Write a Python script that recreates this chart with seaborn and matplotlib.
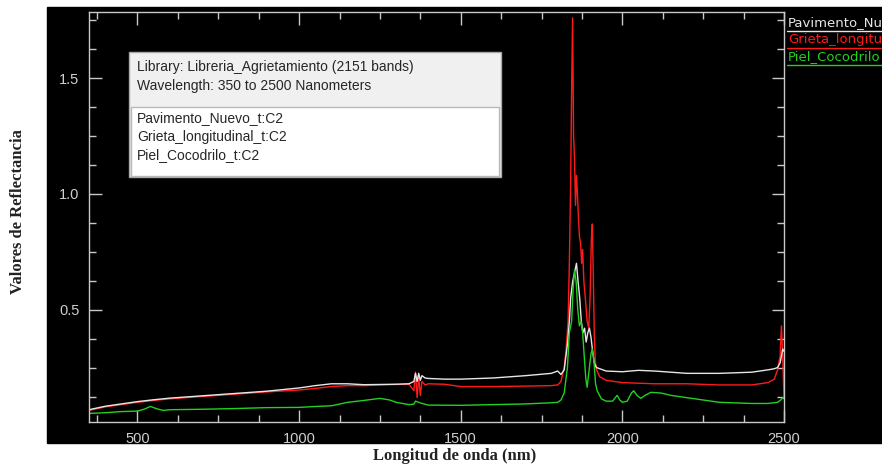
import pandas as pd
import matplotlib.pyplot as plt
import seaborn as sns
from matplotlib.patches import Rectangle
from matplotlib.lines import Line2D
from matplotlib.ticker import MultipleLocator

# Spectra (wavelength nm, reflectance)
pav_wl = [350, 400, 450, 500, 550, 600, 700, 800, 900, 1000, 1050, 1100, 1150, 1200,
          1250, 1300, 1340, 1355, 1360, 1365, 1370, 1375, 1380, 1390, 1400, 1450, 1500,
          1600, 1700, 1780, 1800, 1810, 1820, 1830, 1836, 1840, 1846, 1852, 1858, 1863,
          1868, 1873, 1878, 1883, 1888, 1893, 1898, 1903, 1908, 1913, 1920, 1930, 1950,
          2000, 2050, 2100, 2200, 2300, 2400, 2450, 2470, 2480, 2488, 2492, 2496, 2500]
pav_val = [0.068, 0.083, 0.093, 0.103, 0.111, 0.118, 0.128, 0.138, 0.148, 0.162, 0.172,
           0.180, 0.180, 0.176, 0.177, 0.178, 0.180, 0.190, 0.225, 0.190, 0.225, 0.195,
           0.215, 0.205, 0.203, 0.200, 0.200, 0.205, 0.215, 0.225, 0.235, 0.220, 0.240,
           0.350, 0.450, 0.550, 0.620, 0.660, 0.700, 0.620, 0.550, 0.450, 0.400, 0.420,
           0.360, 0.400, 0.420, 0.380, 0.320, 0.270, 0.250, 0.245, 0.235, 0.232, 0.238,
           0.235, 0.225, 0.225, 0.230, 0.240, 0.245, 0.250, 0.270, 0.300, 0.330, 0.320]

gri_wl = [350, 400, 450, 500, 550, 600, 700, 800, 900, 1000, 1050, 1100, 1150, 1200,
          1250, 1300, 1340, 1355, 1360, 1365, 1370, 1375, 1380, 1390, 1400, 1450, 1500,
          1600, 1700, 1780, 1800, 1810, 1820, 1826, 1832, 1836, 1840, 1843, 1846, 1849,
          1852, 1855, 1858, 1861, 1864, 1867, 1871, 1874, 1877, 1881, 1886, 1891, 1896,
          1900, 1904, 1907, 1910, 1913, 1916, 1920, 1930, 1950, 2000, 2100, 2200, 2300,
          2400, 2450, 2470, 2480, 2488, 2492, 2496, 2500]
gri_val = [0.065, 0.080, 0.090, 0.100, 0.108, 0.115, 0.125, 0.135, 0.145, 0.153, 0.160,
           0.168, 0.172, 0.172, 0.175, 0.177, 0.178, 0.150, 0.230, 0.120, 0.210, 0.130,
           0.190, 0.175, 0.180, 0.178, 0.168, 0.168, 0.170, 0.172, 0.175, 0.190, 0.250,
           0.330, 0.450, 0.700, 1.050, 1.450, 1.760, 1.250, 1.150, 0.950, 1.080, 1.000,
           0.900, 0.820, 0.780, 0.700, 0.760, 0.620, 0.540, 0.450, 0.420, 0.550, 0.800,
           0.870, 0.650, 0.400, 0.280, 0.240, 0.210, 0.195, 0.185, 0.180, 0.180, 0.175,
           0.175, 0.185, 0.200, 0.240, 0.300, 0.430, 0.300, 0.120]

piel_wl = [350, 400, 450, 500, 520, 540, 560, 580, 600, 700, 800, 900, 1000, 1050, 1100,
           1150, 1200, 1250, 1280, 1300, 1340, 1355, 1360, 1370, 1380, 1400, 1500, 1600,
           1700, 1780, 1800, 1810, 1820, 1830, 1836, 1843, 1848, 1852, 1857, 1862, 1867,
           1872, 1877, 1882, 1887, 1891, 1898, 1903, 1907, 1912, 1917, 1922, 1935, 1950,
           1970, 1978, 1984, 1992, 2000, 2015, 2028, 2035, 2045, 2057, 2070, 2088, 2120,
           2150, 2200, 2250, 2300, 2400, 2450, 2480, 2490, 2496, 2500]
piel_val = [0.052, 0.055, 0.060, 0.062, 0.070, 0.082, 0.072, 0.065, 0.068, 0.070, 0.073,
            0.077, 0.078, 0.082, 0.085, 0.100, 0.108, 0.117, 0.110, 0.100, 0.090, 0.092,
            0.105, 0.100, 0.095, 0.088, 0.087, 0.090, 0.093, 0.098, 0.100, 0.110, 0.140,
            0.250, 0.400, 0.450, 0.600, 0.670, 0.620, 0.500, 0.430, 0.450, 0.400, 0.300,
            0.200, 0.165, 0.250, 0.310, 0.330, 0.280, 0.180, 0.150, 0.115, 0.105, 0.105,
            0.120, 0.130, 0.110, 0.100, 0.105, 0.140, 0.150, 0.130, 0.117, 0.130, 0.143,
            0.140, 0.130, 0.120, 0.110, 0.100, 0.095, 0.095, 0.100, 0.110, 0.120, 0.115]

names = ["Pavimento_Nuevo_t:C2", "Grieta_longitudinal_t:C2", "Piel_Cocodrilo_t:C2"]
legend_names = ["Pavimento_Nuevo", "Grieta_longitudinal", "Piel_Cocodrilo"]
colors = ["#e6e6e6", "#ff1a1a", "#22d022"]

data = pd.concat([
    pd.DataFrame({"wl": pav_wl, "val": pav_val, "serie": legend_names[0]}),
    pd.DataFrame({"wl": gri_wl, "val": gri_val, "serie": legend_names[1]}),
    pd.DataFrame({"wl": piel_wl, "val": piel_val, "serie": legend_names[2]}),
])

sns.set_theme(style="ticks")
plt.rcParams["font.family"] = ["Liberation Sans", "DejaVu Sans"]

fig = plt.figure(figsize=(8.82, 4.68), dpi=100)
fig.patch.set_facecolor("white")

# black panel behind the plot
fig.add_artist(Rectangle((47 / 882, 1 - 443 / 468), 835 / 882, 436 / 468,
                         transform=fig.transFigure, color="black", zorder=-5))

ax = fig.add_axes([89 / 882, 1 - 422 / 468, 695 / 882, 410 / 468])
ax.set_facecolor("black")

# red first, then white, then green on top
for i in [1, 0, 2]:
    sub = data[data["serie"] == legend_names[i]]
    sns.lineplot(data=sub, x="wl", y="val", color=colors[i], linewidth=1.0,
                 estimator=None, sort=False, ax=ax, legend=False)

ax.set_xlim(350, 2500)
ax.set_ylim(0.015, 1.785)
ax.xaxis.set_major_locator(MultipleLocator(500))
ax.xaxis.set_minor_locator(MultipleLocator(125))
ax.yaxis.set_major_locator(MultipleLocator(0.5))
ax.yaxis.set_minor_locator(MultipleLocator(0.125))
ax.set_xlabel("")
ax.set_ylabel("")

for s in ax.spines.values():
    s.set_color("#c8c8c8")
    s.set_linewidth(1.0)
ax.tick_params(which="both", direction="in", top=True, right=True,
               color="#c8c8c8", labelcolor="#cfcfcf", labelsize=10.5)
ax.tick_params(which="major", length=9, width=1.0, pad=7)
ax.tick_params(which="minor", length=5, width=1.0)

# axis titles outside the black panel
fig.text(18 / 882, 1 - 212 / 468, "Valores de Reflectancia", rotation=90,
         ha="center", va="center", fontsize=12, fontweight="bold",
         family="Liberation Serif", color="#222222")
fig.text(455 / 882, 1 - 456 / 468, "Longitud de onda (nm)", ha="center", va="center",
         fontsize=12, fontweight="bold", family="Liberation Serif", color="#222222")

# legend at right, underlined in each colour (cut by the figure edge as in the source)
for k in range(3):
    yb = 1 - (31 + 17 * k) / 468
    fig.text(788 / 882, yb + 2 / 468, legend_names[k], color=colors[k],
             fontsize=9.5, family="DejaVu Sans", ha="left", va="bottom", zorder=6)
    fig.add_artist(Line2D([787 / 882, 1.0], [yb, yb], color=colors[k],
                          linewidth=1.0, transform=fig.transFigure, zorder=6))

# info box
fig.add_artist(Rectangle((129 / 882, 1 - 177 / 468), 372 / 882, 125 / 468,
                         transform=fig.transFigure, facecolor="#f0f0f0",
                         edgecolor="#a8a8a8", linewidth=1.0, zorder=5))
fig.add_artist(Rectangle((131 / 882, 1 - 176 / 468), 368 / 882, 69 / 468,
                         transform=fig.transFigure, facecolor="white",
                         edgecolor="#b8b8b8", linewidth=1.0, zorder=5))
fig.text(137 / 882, 1 - 67 / 468, "Library: Libreria_Agrietamiento (2151 bands)",
         fontsize=10, color="#262626", va="center", zorder=6)
fig.text(137 / 882, 1 - 86 / 468, "Wavelength: 350 to 2500 Nanometers",
         fontsize=10, color="#262626", va="center", zorder=6)
for k in range(3):
    fig.text(137 / 882, 1 - (118 + 18.5 * k) / 468, names[k],
             fontsize=10, color="#262626", va="center", zorder=6)

fig.savefig("out.png", dpi=100, facecolor="white")
